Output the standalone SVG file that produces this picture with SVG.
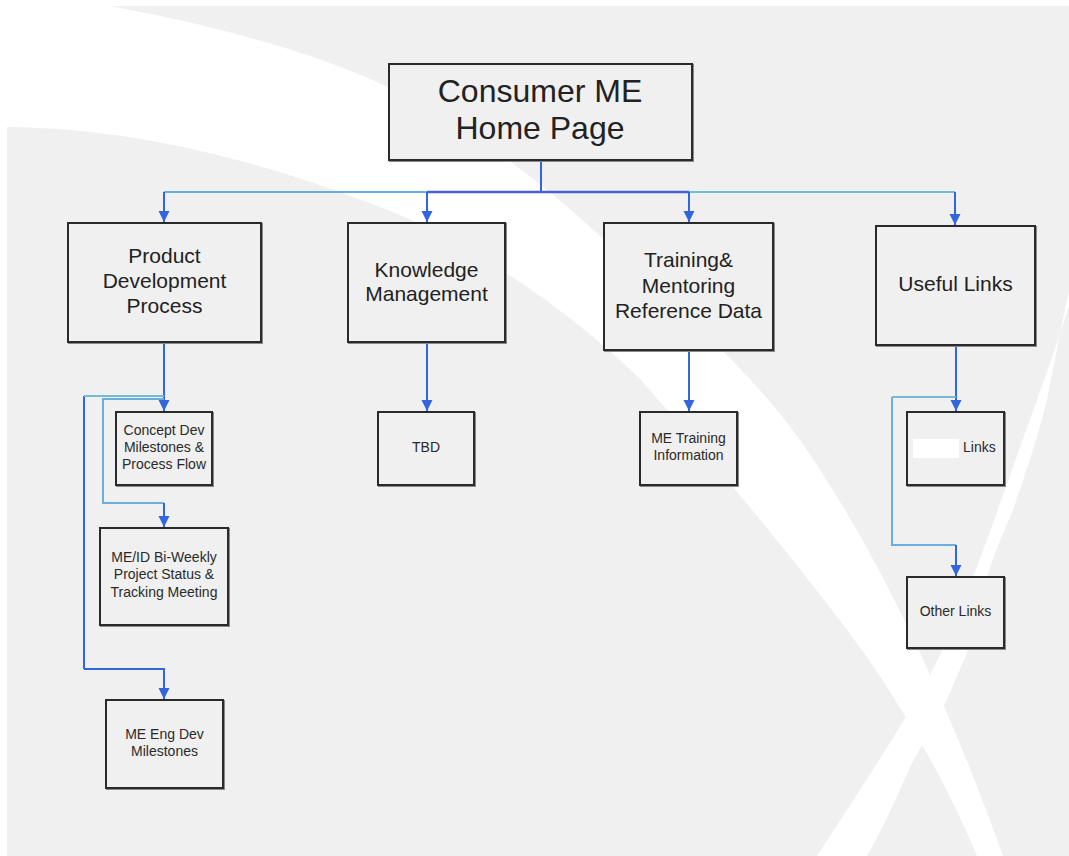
<svg xmlns="http://www.w3.org/2000/svg" width="1069" height="856" viewBox="0 0 1069 856">
<style>
.box{fill:#f0f0f0;stroke:#2a2a2a;stroke-width:2}
.shadow{fill:none;stroke:#8a8a8a;stroke-width:2}
.t{font-family:"Liberation Sans",Arial,sans-serif;fill:#222;text-anchor:middle}
.big{font-size:32px}
.mid{font-size:21px}
.sm{font-size:14px;fill:#2a2a2a}
.ln{fill:none;stroke:#3366dd;stroke-width:2}
.lt{fill:none;stroke:#6aaee0;stroke-width:2}
.tl{fill:none;stroke:#74bcd2;stroke-width:2}
.dk{fill:none;stroke:#4a5fd6;stroke-width:2.5}
</style>
<defs>
<marker id="arr" markerUnits="userSpaceOnUse" markerWidth="12" markerHeight="12" viewBox="0 0 12 12" refX="11" refY="6" orient="auto">
<path d="M0,0.5 L11,6 L0,11.5 Z" fill="#3366dd"/>
</marker>
</defs>
<g id="background">
<rect x="0" y="0" width="1069" height="856" fill="#ffffff"/>
<rect x="7" y="6" width="1062" height="850" fill="#f0f0f0"/>
<path d="M7,6 L109,6 C200,22 310,50 390,88 C470,128 540,180 600,236 C680,310 750,370 800,440 C870,540 940,680 1003,856 L977,856 C950,790 910,720 867,657 C800,565 720,470 641,380 C580,320 490,255 400,215 C290,170 150,128 7,127 Z" fill="#ffffff"/>
<path d="M1069,292 L1069,306 C1058,340 1048,370 1037,400 C1015,460 995,520 973,577 C955,625 935,670 910,710 C880,760 850,805 817,856 L867,856 C885,825 900,790 910,767 C925,740 935,720 947,700 C955,680 962,665 967,653 C975,625 982,600 987,577 C995,550 1005,530 1013,510 C1025,475 1037,440 1047,400 C1055,360 1062,320 1069,292 Z" fill="#ffffff"/>
</g>
<g id="connectors">
<path class="ln" d="M541,161 V192"/>
<path class="lt" d="M164,192 H427"/>
<path class="dk" d="M427,192 H689"/>
<path class="tl" d="M689,192 H955"/>
<path class="ln" d="M164,192 V222" marker-end="url(#arr)"/>
<path class="ln" d="M427,192 V222" marker-end="url(#arr)"/>
<path class="ln" d="M689,192 V222" marker-end="url(#arr)"/>
<path class="ln" d="M955,192 V225" marker-end="url(#arr)"/>
<path class="ln" d="M164,342 V411" marker-end="url(#arr)"/>
<path class="ln" d="M84,669 V396"/>
<path class="tl" d="M84,396 H164"/>
<path class="ln" d="M84,669 H164 V699" marker-end="url(#arr)"/>
<path class="lt" d="M164,399 H103 V503 H164"/>
<path class="ln" d="M164,503 V527" marker-end="url(#arr)"/>
<path class="ln" d="M427,342 V411" marker-end="url(#arr)"/>
<path class="ln" d="M689,350 V411" marker-end="url(#arr)"/>
<path class="ln" d="M956,345 V411" marker-end="url(#arr)"/>
<path class="tl" d="M956,397 H892"/>
<path class="lt" d="M892,397 V545 H956"/>
<path class="ln" d="M956,545 V576" marker-end="url(#arr)"/>
</g>
<g id="node-home">
<rect class="shadow" x="390" y="65" width="303" height="96"/>
<rect class="box" x="389" y="64" width="303" height="96"/>
<text class="t big" x="540" y="102">Consumer ME</text>
<text class="t big" x="540" y="139">Home Page</text>
</g>
<g id="node-pdp">
<rect class="shadow" x="69" y="224" width="193" height="119"/>
<rect class="box" x="68" y="223" width="193" height="119"/>
<text class="t mid" x="164.5" y="263">Product</text>
<text class="t mid" x="164.5" y="288">Development</text>
<text class="t mid" x="164.5" y="313">Process</text>
</g>
<g id="node-km">
<rect class="shadow" x="349" y="224" width="157" height="119"/>
<rect class="box" x="348" y="223" width="157" height="119"/>
<text class="t mid" x="426.5" y="277">Knowledge</text>
<text class="t mid" x="426.5" y="301">Management</text>
</g>
<g id="node-tm">
<rect class="shadow" x="605" y="224" width="169" height="127"/>
<rect class="box" x="604" y="223" width="169" height="127"/>
<text class="t mid" x="688.5" y="267">Training&amp;</text>
<text class="t mid" x="688.5" y="293">Mentoring</text>
<text class="t mid" x="688.5" y="318">Reference Data</text>
</g>
<g id="node-ul">
<rect class="shadow" x="877" y="227" width="159" height="119"/>
<rect class="box" x="876" y="226" width="159" height="119"/>
<text class="t mid" x="955.5" y="291">Useful Links</text>
</g>
<g id="node-concept">
<rect class="shadow" x="117" y="413" width="96" height="73"/>
<rect class="box" x="116" y="412" width="96" height="73"/>
<text class="t sm" x="164" y="435">Concept Dev</text>
<text class="t sm" x="164" y="452">Milestones &amp;</text>
<text class="t sm" x="164" y="469">Process Flow</text>
</g>
<g id="node-meid">
<rect class="shadow" x="101" y="529" width="128" height="97"/>
<rect class="box" x="100" y="528" width="128" height="97"/>
<text class="t sm" x="164" y="562">ME/ID Bi-Weekly</text>
<text class="t sm" x="164" y="579">Project Status &amp;</text>
<text class="t sm" x="164" y="597">Tracking Meeting</text>
</g>
<g id="node-meeng">
<rect class="shadow" x="107" y="701" width="117" height="88"/>
<rect class="box" x="106" y="700" width="117" height="88"/>
<text class="t sm" x="164.5" y="739">ME Eng Dev</text>
<text class="t sm" x="164.5" y="756">Milestones</text>
</g>
<g id="node-tbd">
<rect class="shadow" x="379" y="413" width="96" height="73"/>
<rect class="box" x="378" y="412" width="96" height="73"/>
<text class="t sm" x="426" y="452">TBD</text>
</g>
<g id="node-metraining">
<rect class="shadow" x="641" y="413" width="97" height="73"/>
<rect class="box" x="640" y="412" width="97" height="73"/>
<text class="t sm" x="688.5" y="443">ME Training</text>
<text class="t sm" x="688.5" y="460">Information</text>
</g>
<g id="node-links">
<rect class="shadow" x="908" y="413" width="97" height="73"/>
<rect class="box" x="907" y="412" width="97" height="73"/>
<rect x="913" y="439" width="46" height="19" fill="#ffffff"/>
<text class="t sm" x="963" y="452" style="text-anchor:start">Links</text>
</g>
<g id="node-otherlinks">
<rect class="shadow" x="908" y="578" width="97" height="71"/>
<rect class="box" x="907" y="577" width="97" height="71"/>
<text class="t sm" x="955.5" y="616">Other Links</text>
</g>
</svg>
